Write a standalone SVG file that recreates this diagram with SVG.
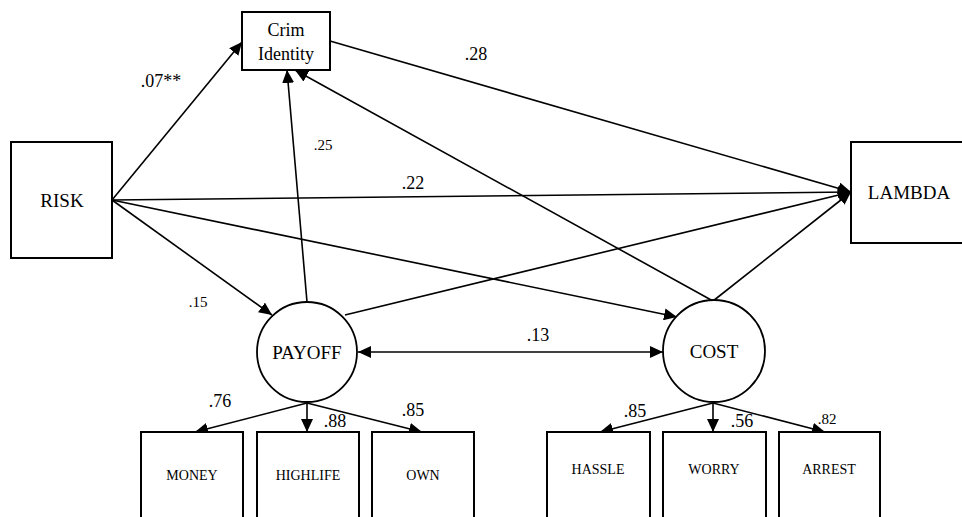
<svg xmlns="http://www.w3.org/2000/svg" width="962" height="517" viewBox="0 0 962 517">
<style>
.box{fill:#fff;stroke:#000;stroke-width:2}
.lat{fill:#fff;stroke:#000;stroke-width:1.8}
.c{fill:none;stroke:#000;stroke-width:1.6}
.a{marker-end:url(#ah)}
.d{marker-start:url(#ah);marker-end:url(#ah)}
text{fill:#000;text-anchor:middle}
.n{font-size:19px}
.m{font-size:14px}
.l{font-size:18px}
.s{font-size:15px}
</style>
<defs>
<marker id="ah" markerUnits="userSpaceOnUse" markerWidth="13" markerHeight="12" refX="13" refY="6" orient="auto-start-reverse">
<path d="M0,0 L13,6 L0,12 z" fill="#000"/>
</marker>
</defs>
<g id="connectors">
<path class="c a" d="M112,200 L242,42"/>
<path class="c a" d="M112,200 L851,192"/>
<path class="c a" d="M112,200 L272,315"/>
<path class="c a" d="M112,200 L677,317"/>
<path class="c a" d="M307,302 L287,70"/>
<path class="c a" d="M713,301 L295,70"/>
<path class="c a" d="M330,41 L851,192"/>
<path class="c a" d="M345,315 L851,192"/>
<path class="c a" d="M713,301 L851,192"/>
<path class="c d" d="M358,352 L663,352"/>
<path class="c a" d="M307,403 L195,432"/>
<path class="c a" d="M307,403 L307,432"/>
<path class="c a" d="M307,403 L422,432"/>
<path class="c a" d="M713,403 L600,432"/>
<path class="c a" d="M713,403 L713,432"/>
<path class="c a" d="M713,403 L825,432"/>
</g>
<g font-family="'Liberation Serif', 'Times New Roman', 'DejaVu Serif', serif">
<g id="labels">
<text class="l" x="161" y="87">.07**</text>
<text class="s" x="323" y="150">.25</text>
<text class="l" x="476" y="60">.28</text>
<text class="l" x="413" y="189">.22</text>
<text class="s" x="198" y="307">.15</text>
<text class="l" x="538" y="341">.13</text>
<text class="l" x="220" y="407">.76</text>
<text class="l" x="335" y="427">.88</text>
<text class="l" x="413" y="416">.85</text>
<text class="l" x="635" y="417">.85</text>
<text class="l" x="742" y="427">.56</text>
<text class="s" x="827" y="424">.82</text>
</g>
<g id="crim"><rect class="box" x="242" y="12" width="88" height="58"/><text class="l" x="286" y="36">Crim</text><text class="l" x="286" y="60">Identity</text></g>
<g id="risk"><rect class="box" x="11" y="142" width="101" height="116"/><text class="n" x="62" y="207">RISK</text></g>
<g id="lambda"><rect class="box" x="851" y="142" width="120" height="101"/><text class="n" x="909" y="199">LAMBDA</text></g>
<g id="payoff"><circle class="lat" cx="307" cy="352" r="50"/><text class="n" x="307" y="359">PAYOFF</text></g>
<g id="cost"><circle class="lat" cx="714" cy="351" r="51"/><text class="n" x="714" y="358">COST</text></g>
<g id="money"><rect class="box" x="141" y="432" width="102" height="110"/><text class="m" x="192" y="480">MONEY</text></g>
<g id="highlife"><rect class="box" x="257" y="432" width="102" height="110"/><text class="m" x="308" y="480">HIGHLIFE</text></g>
<g id="own"><rect class="box" x="372" y="432" width="102" height="110"/><text class="m" x="423" y="480">OWN</text></g>
<g id="hassle"><rect class="box" x="547" y="432" width="103" height="110"/><text class="m" x="598" y="474">HASSLE</text></g>
<g id="worry"><rect class="box" x="663" y="432" width="103" height="110"/><text class="m" x="714" y="474">WORRY</text></g>
<g id="arrest"><rect class="box" x="779" y="432" width="101" height="110"/><text class="m" x="829" y="474">ARREST</text></g>
</g>
</svg>
